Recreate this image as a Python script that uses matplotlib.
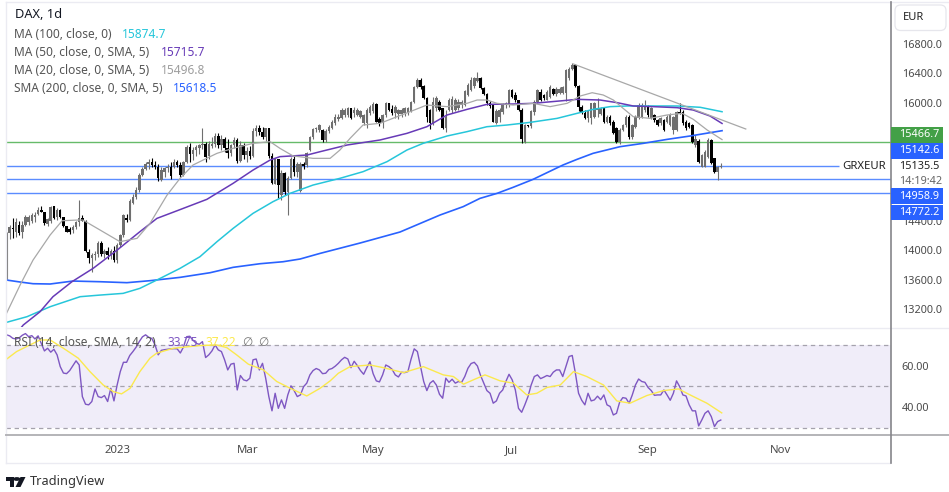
import matplotlib
matplotlib.use('Agg')
import matplotlib.pyplot as plt
from matplotlib.patches import Rectangle, Polygon, Circle, FancyBboxPatch

plt.rcParams['font.family'] = ['Noto Sans', 'DejaVu Sans']

W, H = 949, 492

opens = [13593,14230,14300,14250,14340,14250,14340,14380,14400,14450,
	14490,14540,14520,14350,14400,14590,14450,14540,14445,14320,
	14290,14270,14310,14380,14430,14400,13970,13890,13930,13950,
	14090,13940,13990,13930,13980,13860,14070,14200,14440,14410,
	14640,14720,14810,15020,15100,15170,15190,15150,15130,14950,
	15060,15110,15130,15130,15190,15150,15020,15190,15395,15300,
	15350,15390,15420,15440,15270,15410,15440,15550,15420,15510,
	15390,15320,15420,15490,15210,15430,15290,15340,15280,15620,
	15650,15600,15530,15650,15280,14900,15230,14750,15050,14780,
	14980,15240,15060,14800,15170,15150,15360,15530,15640,15630,
	15625,15490,15610,15660,15720,15770,15790,15830,15830,15920,
	15860,15830,15810,15720,15720,15860,15880,15985,15780,15740,
	15830,15990,15910,15860,15840,15850,15860,15860,15880,16010,
	16215,16310,16230,16060,15900,15720,15930,16010,15920,15650,
	15900,15900,15900,15930,15960,15970,16100,16170,16220,16290,
	16330,16195,16110,16000,15960,15720,15800,15870,15960,15970,
	16170,16100,16030,15900,15470,15690,15680,15870,16010,16147,
	16100,16040,16080,16190,16120,16130,16130,16124,16330,16460,
	16510,16220,15940,15860,15790,15790,15810,15900,15840,15920,
	15740,15810,15740,15650,15470,15630,15695,15810,15530,15670,
	15785,15810,15900,15940,15790,15830,15763,15720,15763,15740,
	15695,15627,15627,15876,15876,15740,15720,15695,15420,15480,
	15130,15130,15266,15490,15243,15060,15130]
highs = [14240,14340,14430,14430,14390,14390,14480,14470,14500,14510,
	14580,14600,14520,14440,14590,14600,14570,14560,14450,14330,
	14310,14340,14400,14680,14470,14410,14020,13960,13980,14120,
	14120,14010,14040,14010,14060,14090,14220,14490,14490,14690,
	14760,14850,15040,15130,15200,15240,15250,15210,15160,15120,
	15130,15160,15190,15230,15220,15190,15210,15420,15450,15400,
	15420,15440,15650,15470,15480,15530,15580,15590,15560,15530,
	15500,15440,15530,15520,15480,15450,15400,15410,15650,15690,
	15700,15670,15660,15660,15320,15250,15240,15080,15060,15000,
	15260,15280,15200,15190,15200,15330,15545,15660,15670,15710,
	15640,15640,15690,15760,15840,15850,15920,15930,15940,15930,
	15935,15930,15900,15850,15920,15960,16010,16000,15800,15845,
	16010,16000,15960,15960,15910,15920,15940,15940,16020,16230,
	16335,16330,16240,16080,15910,16080,16090,16040,15930,15900,
	16060,16090,16060,16050,16040,16170,16260,16340,16340,16420,
	16340,16210,16130,16020,15975,15910,15920,16000,16010,16190,
	16190,16140,16040,15920,15710,15700,15900,16040,16190,16180,
	16120,16170,16240,16200,16210,16215,16230,16450,16480,16530,
	16520,16240,15960,15900,15900,16000,16010,16057,15940,15940,
	15830,15830,15760,15670,15650,15710,15830,15830,15710,15830,
	15990,15990,16040,15970,15945,15840,15775,15800,15775,15830,
	15860,15820,15890,15990,15900,15760,15740,15710,15560,15500,
	15300,15350,15520,15510,15250,15140,15175]
lows = [13590,14150,14160,14170,14200,14160,14320,14340,14360,14380,
	14470,14510,14340,14330,14370,14420,14410,14430,14310,14240,
	14220,14230,14280,14320,14390,13970,13820,13700,13870,13910,
	13920,13890,13880,13880,13840,13830,14040,14180,14380,14390,
	14620,14690,14790,15000,15080,15100,15120,15100,14930,14940,
	14990,15060,14960,15110,15130,14990,15000,15180,15200,15220,
	15280,15300,15370,15200,15240,15380,15400,15390,15360,15330,
	15250,15280,15380,15180,15190,15230,15190,15240,15260,15540,
	15560,15510,15480,15250,14890,14890,14700,14680,14750,14470,
	14960,15000,14990,14790,15100,15130,15340,15510,15600,15600,
	15470,15470,15590,15640,15700,15750,15770,15810,15800,15770,
	15810,15820,15790,15690,15660,15830,15860,15730,15680,15660,
	15810,15880,15830,15790,15770,15810,15820,15830,15870,15990,
	16200,16190,16050,15730,15640,15700,15890,15880,15640,15600,
	15880,15860,15890,15900,15930,15950,16090,16150,16200,16280,
	16180,16100,15970,15930,15730,15710,15730,15850,15920,15940,
	16060,16010,15880,15450,15450,15670,15660,15830,15990,16020,
	16040,16030,16060,16100,16090,16110,16110,16020,16300,16440,
	16210,15880,15840,15770,15730,15710,15790,15810,15830,15720,
	15720,15700,15570,15450,15440,15610,15670,15510,15510,15650,
	15770,15790,15870,15800,15770,15740,15680,15700,15620,15720,
	15680,15570,15610,15840,15700,15630,15650,15450,15400,15180,
	15120,15120,15250,15160,15050,14950,15110]
closes = [14226,14310,14290,14380,14230,14340,14450,14450,14470,14470,
	14545,14520,14360,14420,14585,14430,14540,14445,14320,14250,
	14250,14310,14380,14430,14400,13980,13890,13930,13950,14090,
	13940,13990,13930,13980,13860,14070,14200,14470,14410,14670,
	14720,14810,15020,15100,15170,15190,15150,15130,14970,15080,
	15110,15130,15000,15190,15150,15020,15190,15395,15300,15350,
	15400,15420,15440,15260,15440,15440,15550,15420,15510,15390,
	15320,15420,15490,15210,15430,15290,15340,15270,15610,15650,
	15600,15530,15650,15280,14910,15230,14880,15050,14780,14980,
	15240,15060,15160,15170,15140,15310,15530,15640,15650,15690,
	15490,15620,15670,15740,15810,15810,15895,15900,15920,15790,
	15900,15900,15880,15830,15900,15940,15985,15740,15720,15830,
	15990,15900,15860,15940,15895,15900,15920,15920,16010,16215,
	16310,16215,16060,15810,15720,16010,16060,15900,15650,15800,
	16030,16050,16030,16010,16010,16150,16240,16300,16330,16330,
	16195,16110,15990,15950,15740,15890,15900,15970,15990,16170,
	16080,16030,15900,15510,15690,15680,15880,16010,16170,16040,
	16060,16147,16215,16120,16190,16190,16210,16440,16460,16510,
	16220,15940,15860,15790,15880,15990,15990,15930,15920,15740,
	15800,15720,15580,15470,15630,15695,15810,15530,15695,15810,
	15966,15966,15940,15830,15920,15763,15695,15785,15630,15810,
	15830,15808,15876,15850,15720,15650,15670,15470,15510,15190,
	15288,15333,15490,15175,15062,15130,15135]

ma100_idx = [0,6.5,13.8,23.3,29.6,36.9,42.2,48.6,54.9,61.2,66.6,71.7,78,84.3,89.7,97,105.5,112.8,120.4,126.7,131.8,139.4,145.7,152,158.4,165.7,174.2,180.5,185.6,191,196.4,204.6,212.2,219.5,226.4]
ma100 = [13019,13096,13231,13367,13389,13412,13480,13615,13751,13909,14113,14293,14497,14655,14768,14881,14972,15062,15198,15356,15446,15546,15605,15672,15695,15731,15785,15853,15907,15944,15953,15953,15953,15935,15875]
ma50_idx = [0,5.3,10.6,14.7,20.7,27.4,35,42.2,47.6,54,63.4,71.7,78,83.4,86.5,95.1,99.2,107.8,118.2,126.7,133,139.4,145.7,152,160.3,166.6,176.1,180.5,187.8,193.2,198.3,204.6,212.2,217.3,222.6,226.4]
ma50 = [12700,12983,13163,13367,13570,13751,13999,14248,14429,14533,14687,14904,15084,15220,15266,15288,15333,15424,15492,15582,15672,15831,15907,15975,15980,15989,16025,16043,16034,15998,15953,15944,15930,15898,15817,15716]
ma20_idx = [0,4.3,8.4,13.8,17.6,22.3,24.2,29.6,35.9,41.3,45.4,50.8,54.9,59,62.2,66.6,71.7,78,83.4,86.5,90.7,97,102.4,105.5,108.7,112.8,118.2,127.7,133,139.4,145.7,148.9,152,155.2,160.3,166.6,172,177.4,181.5,185.3,188.8,192,195.1,198.3,203.6,209,213.8,217.3,221.7,226.4]
ma20 = [13141,13525,13864,14203,14397,14406,14406,14271,14113,14158,14361,14745,14971,15152,15220,15311,15379,15446,15469,15379,15275,15243,15243,15356,15514,15695,15718,15876,15966,15944,15989,16034,16034,15989,15966,15989,15944,15989,16088,16133,16102,16034,15921,15808,15785,15831,15853,15772,15627,15497]
sma200_idx = [0,4.3,8.4,13.8,21,29.6,38.1,45.4,54.9,64.4,71.7,80.2,87.5,92.9,99.2,111.9,124.5,137.2,144.5,149.8,155.2,160.3,166.6,176.1,180.5,185.6,194.1,201.4,209,216.3,226.4]
sma200 = [13593,13566,13543,13539,13579,13570,13557,13584,13629,13692,13765,13814,13841,13878,13954,14095,14244,14475,14588,14700,14768,14850,14958,15153,15229,15311,15401,15446,15500,15546,15618]

trend_idx = [179.4,233.9]
trend = [16522,15641]

green_level = 15466.7
blue_levels = [15142.6,14958.9,14772.2]

rsi = [75.0,74.5,73.3,73.0,73.5,74.8,75.6,74.1,74.6,73.0,74.5,70.9,67.2,68.5,66.6,68.0,65.3,59.6,56.5,56.2,
	57.7,60.1,62.4,60.4,45.1,41.4,41.1,42.7,48.8,45.1,44.6,45.6,42.7,49.1,43.0,50.7,57.2,61.7,61.7,65.0,
	66.9,69.0,71.7,74.0,75.0,73.8,73.2,70.1,65.3,67.5,67.8,68.0,68.2,68.3,68.2,66.2,69.1,74.1,74.3,72.4,
	70.9,70.4,71.7,64.0,65.3,67.2,70.1,67.7,66.9,62.9,58.0,60.8,61.2,48.3,55.3,53.2,52.7,54.0,62.9,63.3,
	58.0,61.2,54.0,45.1,38.2,46.7,39.4,43.5,39.4,45.9,50.3,48.0,45.1,45.9,49.9,51.6,55.6,
	57.7,58.7,58.0,56.2,56.4,58.2,58.7,59.8,61.2,62.9,64.1,63.3,59.1,62.2,60.1,57.7,55.9,59.1,62.0,56.2,
	52.7,52.2,55.6,60.4,59.6,58.3,55.6,54.6,56.9,56.7,57.2,63.2,68.2,66.9,59.6,52.4,48.0,51.6,52.8,50.7,
	46.2,44.3,54.0,52.0,53.5,51.6,52.4,52.0,54.8,58.8,61.1,61.7,59.9,55.3,51.6,48.0,46.7,41.9,43.0,46.7,
	48.3,52.4,55.9,53.2,48.3,39.4,37.5,41.1,45.1,50.7,54.8,55.6,53.8,54.5,55.3,54.8,56.9,58.0,58.0,54.8,
	59.6,64.5,65.0,56.4,46.7,43.3,41.1,46.7,43.0,43.5,45.3,43.6,45.9,41.1,40.3,36.2,37.0,42.4,44.6,44.3,
	41.9,45.9,50.7,53.6,52.4,52.0,49.5,48.0,45.7,45.9,45.9,48.3,45.9,43.3,46.7,52.7,49.9,45.9,45.4,41.1,
	38.2,38.2,30.9,33.8,37.0,38.2,35.4,30.6,33.0,33.75]
rsi_ma_idx = [0,3.2,7.4,10.6,13.8,18,22.7,26.4,30.6,33.8,36.4,39.1,42.2,45.4,47.5,52.8,61.2,66.5,69.7,72.8,76.5,81.3,85.5,89.8,95,99.2,102.4,105,108.7,115,119.2,125.6,131.9,138.2,141.4,144.6,147.7,151.4,156.2,160.4,164.6,167.8,171,175.2,179.4,183.6,188.9,193.1,197.3,202.6,207.9,212.6,216.3,221.6,226.3]
rsi_ma = [63.2,66.9,70.1,72.5,72.5,68.5,63.7,57.2,50.7,47.5,46.4,49.1,57.2,63.7,66.1,68.5,69.8,70.1,68.8,65.3,60.8,58,52.4,49.1,45.4,49.1,52.7,56.4,59.6,60.4,59.1,56.7,59.6,55.6,54.8,51.1,53.2,55.6,52.7,51.6,45.9,46.7,49.5,50.7,57.2,54.8,50.7,43,41.9,45.6,48,48.8,45.9,41.9,37.2]

price_ticks = [16800,16400,16000,14400,14000,13600,13200]
rsi_ticks = [60,40]
x_ticks = [35,76.4,116,159.8,202.7,244.8]
x_labels = ['2023','Mar','May','Jul','Sep','Nov']

legend_rows = [('MA (100, close, 0)','15874.7','#26c6da',122,34),
	('MA (50, close, 0, SMA, 5)','15715.7','#673ab7',160.7,52.5),
	('MA (20, close, 0, SMA, 5)','15496.8','#9e9e9e',160.7,70.5),
	('SMA (200, close, 0, SMA, 5)','15618.5','#2962ff',173,88)]

def px(x, y):
	return x/W, 1-y/H

def px_rect(x0, y0, x1, y1):
	return [x0/W, 1-y1/H, (x1-x0)/W, (y1-y0)/H]

fig = plt.figure(figsize=(W/100, H/100), dpi=100)
ax = fig.add_axes(px_rect(6, 2, 890.5, 327))
ax2 = fig.add_axes(px_rect(6, 328, 890.5, 435))

xlim = (-0.16, 279.7)

# candles
xs = list(range(len(closes)))
for i in xs:
	up = closes[i] >= opens[i]
	col = '#6f6f6f' if up else '#000000'
	ax.vlines(i, lows[i], highs[i], color=col, lw=0.8, zorder=3)
	ax.bar(i, abs(closes[i]-opens[i]), bottom=min(opens[i], closes[i]), width=0.8, color=col, lw=0, zorder=3)

ax.plot(sma200_idx, sma200, color='#2962ff', lw=1.2, zorder=4)
ax.plot(ma100_idx, ma100, color='#26c6da', lw=1.1, zorder=4)
ax.plot(ma50_idx, ma50, color='#673ab7', lw=1.1, zorder=4)
ax.plot(ma20_idx, ma20, color='#a8a8a8', lw=0.9, zorder=4)
ax.plot(trend_idx, trend, color='#a8a8a8', lw=0.9, zorder=4)

ax.axhline(green_level, color='#66bb6a', lw=1.0, zorder=2)
ax.hlines(blue_levels[0], xlim[0], 263.4, color='#5b8cff', lw=1.0, zorder=2)
ax.axhline(blue_levels[1], color='#5b8cff', lw=1.0, zorder=2)
ax.axhline(blue_levels[2], color='#5b8cff', lw=1.0, zorder=2)

ax.set_xlim(*xlim)
ax.set_ylim(12956, 17363)
ax.set_xticks([])
ax.yaxis.tick_right()
ax.set_yticks(price_ticks)
ax.set_yticklabels(['%.1f' % p for p in price_ticks], color='#4a4a4a', fontsize=7.8)
ax.tick_params(axis='y', length=0, pad=8)

# rsi pane
ax2.axhspan(30, 70, color='#f0edf9', lw=0, zorder=1)
for level in [70, 50, 30]:
	ax2.axhline(level, color='#a5a2ad', lw=0.9, ls=(0, (3.5, 3)), zorder=2)
ax2.plot(xs, rsi, color='#7e57c2', lw=1.0, zorder=3)
ax2.plot(rsi_ma_idx, rsi_ma, color='#fbe94e', lw=1.0, zorder=3)
ax2.set_xlim(*xlim)
ax2.set_ylim(26.5, 78.3)
ax2.yaxis.tick_right()
ax2.set_yticks(rsi_ticks)
ax2.set_yticklabels(['%.2f' % v for v in rsi_ticks], color='#4a4a4a', fontsize=7.8)
ax2.set_xticks(x_ticks)
ax2.set_xticklabels(x_labels, color='#4a4a4a', fontsize=8.2)
ax2.get_xticklabels()[0].set_fontweight('bold')
ax2.tick_params(axis='y', length=0, pad=8)
ax2.tick_params(axis='x', length=0, pad=7)

for a in [ax, ax2]:
	for s in a.spines.values():
		s.set_visible(False)
ax.patch.set_alpha(0)
ax2.patch.set_alpha(0)

# frame lines
frame = [((5.5, 1.5), (5.5, 462.5), '#ebebf2', 1),
	((5.5, 1.5), (949, 1.5), '#ebebf2', 1),
	((5.5, 462.5), (890, 462.5), '#ebebf2', 1),
	((5.5, 327.5), (949, 327.5), '#ebebf2', 1),
	((6, 435), (949, 435), '#b4b4b8', 1.4),
	((890.5, 2), (890.5, 463), '#85858a', 1.2)]
for p0, p1, c, lw in frame:
	fig.add_artist(plt.Line2D([p0[0]/W, p1[0]/W], [1-p0[1]/H, 1-p1[1]/H], color=c, lw=lw, zorder=5))

# legend text
def ftext(x, y, s, color='#555555', size=8.6, weight='normal', ha='left'):
	tx, ty = px(x, y)
	return fig.text(tx, ty, s, color=color, fontsize=size, fontweight=weight, ha=ha, va='center', zorder=8)

ftext(15, 15, 'DAX, 1d', color='#131722', size=9.2)
for label, value, col, vx, y in legend_rows:
	ftext(14, y, label)
	ftext(vx, y, value, color=col)
ftext(14, 343, 'RSI (14, close, SMA, 14, 2)')
ftext(167.5, 343, '33.75', color='#7e57c2')
ftext(205, 343, '37.22', color='#fbe94e')
ftext(242, 343, '\u2205', color='#777777')
ftext(258, 343, '\u2205', color='#777777')

# price tags
tags = [('15466.7', 127, 142.7, '#43a047'), ('15142.6', 143, 158.5, '#2962ff'),
	('14958.9', 188.5, 204, '#2962ff'), ('14772.2', 205, 220, '#2962ff')]
for label, y0, y1, col in tags:
	fig.add_artist(Rectangle((891/W, 1-y1/H), 51.5/W, (y1-y0)/H, transform=fig.transFigure, fc=col, ec='none', zorder=6))
	ftext(919, (y0+y1)/2, label, color='white', size=7.8, weight='medium', ha='center')
ftext(864.5, 167, 'GRXEUR', color='#222222', size=8.2, ha='center')
ftext(919, 167, '15135.5', color='#222222', size=7.8, ha='center')
ftext(921, 181, '14:19:42', color='#666666', size=7.8, ha='center')

# currency button
fig.add_artist(FancyBboxPatch((895/W, 1-30.5/H), 51/W, 25.5/H, boxstyle='round,pad=0,rounding_size=0.006',
	transform=fig.transFigure, fc='white', ec='#e6e6ec', lw=0.9, mutation_aspect=1.9, zorder=6))
ftext(914, 18, 'EUR', color='#222222', size=8.0, ha='center')

# tradingview mark
logo = '#131722'
fig.add_artist(Polygon([px(6, 477), px(14, 477), px(14, 487), px(10, 487), px(10, 481), px(6, 481)], closed=True,
	transform=fig.transFigure, fc=logo, ec='none', zorder=8))
fig.add_artist(Polygon([px(20.5, 477), px(25.5, 477), px(20.5, 487), px(15.5, 487)], closed=True,
	transform=fig.transFigure, fc=logo, ec='none', zorder=8))
fig.add_artist(Circle(px(16.8, 479), 1.9/H, transform=fig.transFigure, fc=logo, ec='none', zorder=8))
ftext(29.5, 481.5, 'TradingView', color='#333333', size=9.2)

fig.savefig('out.png', dpi=100)
